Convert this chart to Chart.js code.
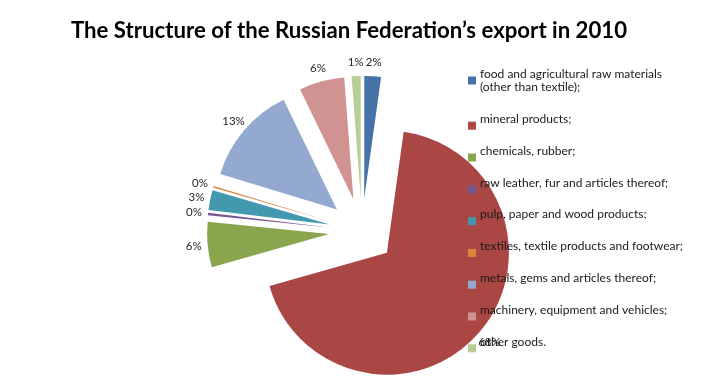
<!DOCTYPE html>
<html>
<head>
<meta charset="utf-8">
<title>The Structure of the Russian Federation’s export in 2010</title>
<script src="https://cdn.jsdelivr.net/npm/chart.js@4.4.1/dist/chart.umd.min.js"></script>
<style>
    html, body { margin: 0; padding: 0; background: #ffffff; }
</style>
</head>
<body>
<canvas id="chartExport" width="702" height="392"></canvas>
<script>
// =========================================================================
// RF EXPORT STRUCTURE 2010 - exploded pie
// =========================================================================

// ── DATA ────────────────────────────────────────────────────────────
const categories = [
    ['food and agricultural raw materials', '(other than textile);'],
    'mineral products;',
    'chemicals, rubber;',
    'raw leather, fur and articles thereof;',
    'pulp, paper and wood products;',
    'textiles, textile products and footwear;',
    'metals, gems and articles thereof;',
    'machinery, equipment and vehicles;',
    'other goods.'
];
const shares = [2.2, 68.4, 6.0, 0.3, 2.6, 0.2, 13.1, 6.0, 1.2];
const colors = ['#4572A7', '#AA4643', '#89A54E', '#71588F', '#4198AF', '#DB843D', '#93A9CF', '#D19392', '#B9CD96'];
const chartTitle = 'The Structure of the Russian Federation’s export in 2010';

const EXPLODE = 33;   // px every slice is pulled out
const RADIUS  = 122;

// push every arc out along its bisector (Chart.js "offset" also shrinks the slices)
const explodePlugin = {
    id: 'explode',
    afterDatasetsUpdate(chart) {
        chart.getDatasetMeta(0).data.forEach(arc => {
            const mid = (arc.startAngle + arc.endAngle) / 2;
            arc.x += Math.cos(mid) * EXPLODE;
            arc.y += Math.sin(mid) * EXPLODE;
        });
    }
};

// percentage labels at the outer end of each slice
const labelsPlugin = {
    id: 'pctLabels',
    afterDatasetsDraw(chart) {
        const ctx = chart.ctx;
        const total = shares.reduce((a, b) => a + b, 0);
        ctx.save();
        ctx.font = '11.5px Lato';
        ctx.fillStyle = '#262626';
        ctx.textAlign = 'center';
        ctx.textBaseline = 'middle';
        chart.getDatasetMeta(0).data.forEach((arc, i) => {
            const mid = (arc.startAngle + arc.endAngle) / 2;
            const r = arc.outerRadius + 14;
            ctx.fillText(Math.round(shares[i] / total * 100) + '%',
                arc.x + Math.cos(mid) * r, arc.y + Math.sin(mid) * r);
        });
        ctx.restore();
    }
};

// title + legend drawn on top (legend overlaps the red slice in the original)
const legendPlugin = {
    id: 'sideLegend',
    afterDraw(chart) {
        const ctx = chart.ctx;
        ctx.save();
        ctx.fillStyle = '#000000';
        ctx.font = 'bold 22.2px Lato';
        ctx.textAlign = 'center';
        ctx.textBaseline = 'middle';
        ctx.fillText(chartTitle, 349, 31);

        ctx.font = '12px Lato';
        ctx.textAlign = 'left';
        categories.forEach((cat, i) => {
            const lines = Array.isArray(cat) ? cat : [cat];
            const sqY = i === 0 ? 80.5 : 125.7 + (i - 1) * 31.8;
            ctx.fillStyle = colors[i];
            ctx.fillRect(468, sqY - 4, 8, 8);
            ctx.fillStyle = '#1a1a1a';
            if (lines.length > 1) {
                lines.forEach((l, k) => ctx.fillText(l, 480, sqY - 6 + k * 12.5));
            } else {
                ctx.fillText(lines[0], 480, sqY - 6.5);
            }
        });
        ctx.restore();
    }
};

new Chart(document.getElementById('chartExport'), {
    type: 'pie',
    data: {
        labels: categories,
        datasets: [{
            data: shares,
            backgroundColor: colors,
            borderWidth: 0
        }]
    },
    options: {
        responsive: false,
        animation: false,
        events: [],
        radius: RADIUS,
        layout: { padding: { left: 162, right: 140, top: 81, bottom: 11 } },
        plugins: {
            legend: { display: false },
            title: { display: false },
            tooltip: { enabled: false }
        }
    },
    plugins: [explodePlugin, labelsPlugin, legendPlugin]
});
</script>
</body>
</html>
